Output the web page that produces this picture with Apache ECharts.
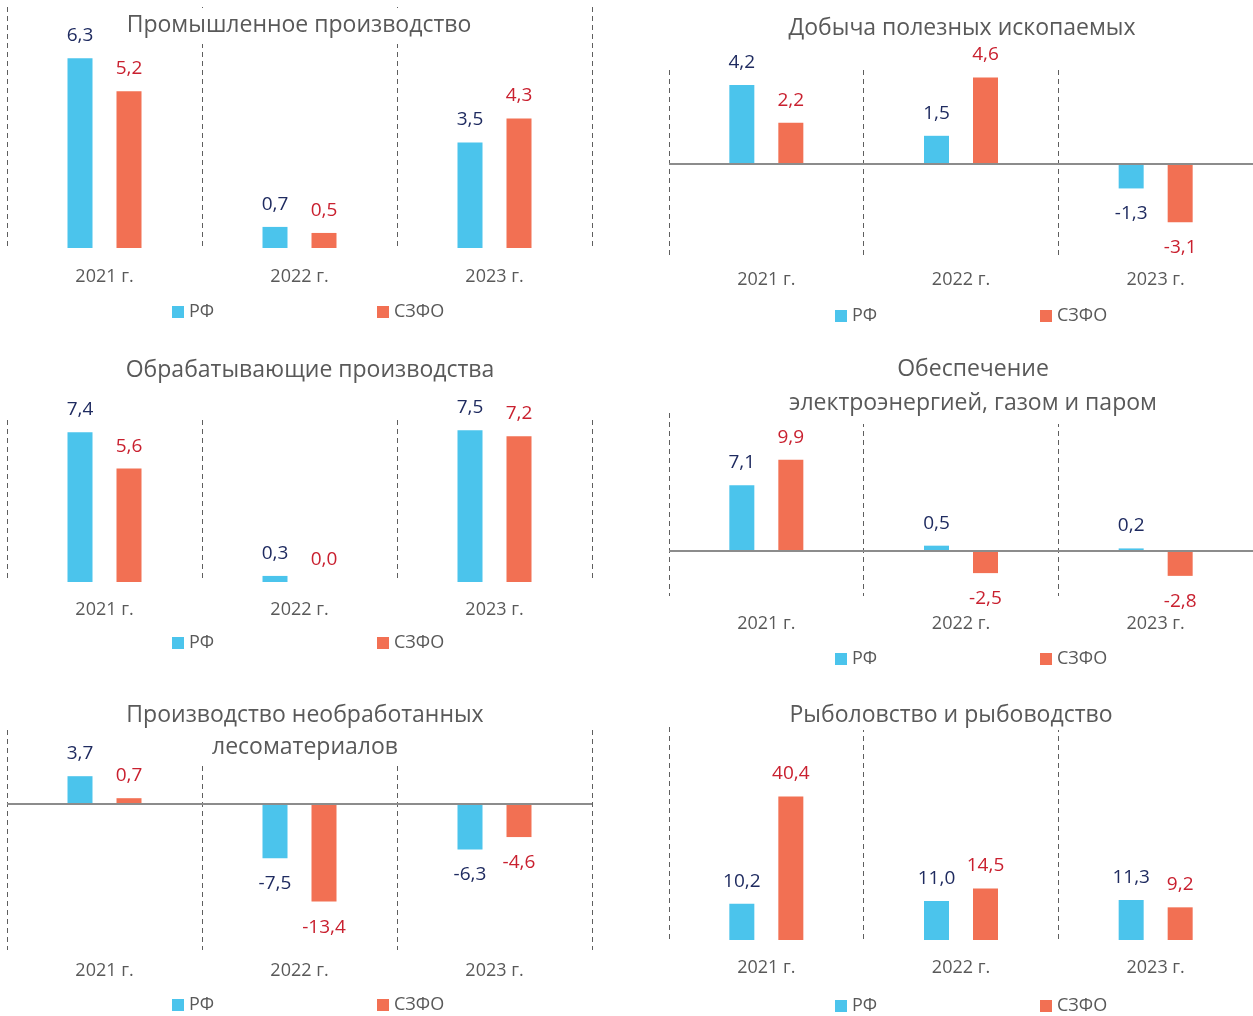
<!DOCTYPE html>
<html>
<head>
<meta charset="utf-8">
<script src="https://cdn.jsdelivr.net/npm/echarts@6/dist/echarts.min.js"></script>
<style>
    body { margin: 0; background: #fff; }
    #myChart { width: 1253px; height: 1016px; }
</style>
</head>
<body>
<div id="myChart"></div>
<script>
    // категории и данные
    let years = ['2021 г.', '2022 г.', '2023 г.'];
    let seriesNames = ['РФ', 'СЗФО'];
    let titles = [
        'Промышленное производство',
        'Добыча полезных ископаемых',
        'Обрабатывающие производства',
        'Обеспечение\nэлектроэнергией, газом и паром',
        'Производство необработанных\nлесоматериалов',
        'Рыболовство и рыбоводство'
    ];
    let rf1 = [6.3, 0.7, 3.5], szfo1 = [5.2, 0.5, 4.3];
    let rf2 = [4.2, 1.5, -1.3], szfo2 = [2.2, 4.6, -3.1];
    let rf3 = [7.4, 0.3, 7.5], szfo3 = [5.6, 0.0, 7.2];
    let rf4 = [7.1, 0.5, 0.2], szfo4 = [9.9, -2.5, -2.8];
    let rf5 = [3.7, -7.5, -6.3], szfo5 = [0.7, -13.4, -4.6];
    let rf6 = [10.2, 11.0, 11.3], szfo6 = [40.4, 14.5, 9.2];
    let yMin = [0, -5, 0, -5, -20, 0];
    let yMax = [8, 5, 8, 15, 10, 60];

    let rfData = [rf1, rf2, rf3, rf4, rf5, rf6];
    let szfoData = [szfo1, szfo2, szfo3, szfo4, szfo5, szfo6];

    // раскладка панелей
    let panels = [
        { grid: [7, 7, 585, 241], title: [291, 8, [2, 8, 4, 8], 30], labelMargin: 20, legendTop: 303, legendLeft: [172, 377] },
        { grid: [669, 70, 585, 188], title: [962, 13, 0, 30], labelMargin: 13, legendTop: 307, legendLeft: [835, 1040] },
        { grid: [7, 420, 585, 162], title: [310, 355, 0, 30], labelMargin: 19, legendTop: 634, legendLeft: [172, 377] },
        { grid: [669, 413, 585, 183], title: [965, 350, [2, 8, 4, 8], 34], labelMargin: 19, legendTop: 650, legendLeft: [835, 1040] },
        { grid: [7, 730, 585, 220], title: [297, 697, [2, 8, 3, 8], 32], labelMargin: 12, legendTop: 996, legendLeft: [172, 377] },
        { grid: [669, 727, 585, 213], title: [951, 700, 0, 30], labelMargin: 19, legendTop: 997, legendLeft: [835, 1040] }
    ];

    let font = '"Open Sans", "Noto Sans", sans-serif';
    let barColors = ['#4BC4EC', '#F27053'];
    let labelColors = ['#1F2B60', '#C9202F'];
    let textGray = '#595959';

    function fmt(v) {
        return v.toFixed(1).replace('.', ',');
    }

    let option = {
        backgroundColor: '#fff',
        animation: false,
        textStyle: { fontFamily: font },
        title: [],
        legend: [],
        grid: [],
        xAxis: [],
        yAxis: [],
        series: []
    };

    panels.forEach((p, i) => {
        option.title.push({
            text: titles[i],
            left: p.title[0],
            top: p.title[1],
            textAlign: 'center',
            padding: p.title[2],
            backgroundColor: '#fff',
            textStyle: {
                color: textGray,
                fontSize: 23,
                fontWeight: 'normal',
                fontFamily: font,
                lineHeight: p.title[3]
            }
        });
        option.grid.push({
            left: p.grid[0],
            top: p.grid[1],
            width: p.grid[2],
            height: p.grid[3]
        });
        option.xAxis.push({
            type: 'category',
            gridIndex: i,
            data: years,
            boundaryGap: true,
            axisLine: { show: false, onZero: false },
            axisTick: { show: false },
            axisLabel: {
                color: textGray,
                fontSize: 18,
                fontFamily: font,
                margin: p.labelMargin
            },
            splitLine: {
                show: true,
                interval: 0,
                lineStyle: { color: '#5f5f5f', width: 1, type: [5, 4] }
            }
        });
        option.yAxis.push({
            type: 'value',
            gridIndex: i,
            min: yMin[i],
            max: yMax[i],
            show: false,
            splitLine: { show: false }
        });
        [rfData[i], szfoData[i]].forEach((vals, s) => {
            let ser = {
                name: seriesNames[s],
                type: 'bar',
                xAxisIndex: i,
                yAxisIndex: i,
                barWidth: 25,
                barGap: '96%',
                itemStyle: { color: barColors[s] },
                data: vals.map(v => ({
                    value: v,
                    label: {
                        position: v < 0 ? 'bottom' : 'top',
                        distance: v < 0 ? 16 : 13
                    }
                })),
                label: {
                    show: true,
                    color: labelColors[s],
                    fontSize: 19,
                    fontFamily: font,
                    formatter: params => fmt(params.value)
                }
            };
            // нулевая линия только там, где есть отрицательные значения
            if (s === 0 && yMin[i] < 0) {
                ser.markLine = {
                    silent: true,
                    symbol: 'none',
                    label: { show: false },
                    lineStyle: { color: '#8c8c8c', width: 2, type: 'solid' },
                    data: [{ yAxis: 0 }]
                };
            }
            option.series.push(ser);
            option.legend.push({
                data: [seriesNames[s]],
                left: p.legendLeft[s],
                top: p.legendTop,
                padding: 0,
                icon: 'rect',
                itemWidth: 12,
                itemHeight: 12,
                itemGap: 5,
                selectedMode: false,
                textStyle: { color: textGray, fontSize: 18, fontFamily: font }
            });
        });
    });

    let myChart = echarts.init(document.getElementById('myChart'));
    myChart.setOption(option);
</script>
</body>
</html>
